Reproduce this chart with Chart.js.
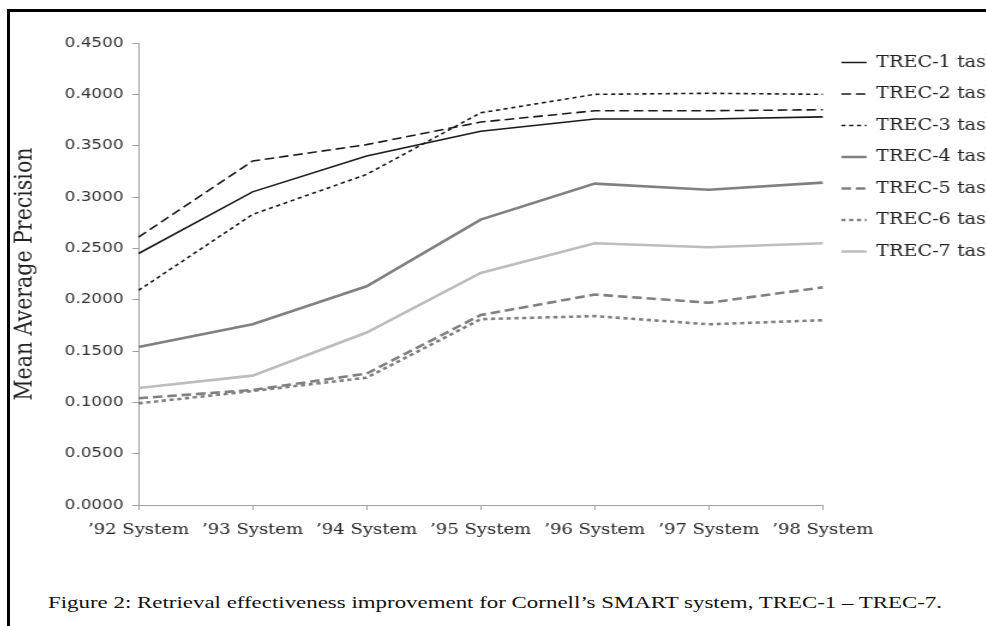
<!DOCTYPE html>
<html lang="en">
<head>
  <meta charset="UTF-8" />
  <title>Retrieval effectiveness, TREC-1 – TREC-7</title>
  <script src="https://cdn.jsdelivr.net/npm/chart.js"></script>
  <style>
    html, body { margin: 0; padding: 0; background: #fff; width: 986px; height: 626px; overflow: hidden; }
    body { position: relative; }
    .frame { position: absolute; left: 7px; top: 9px; width: 1000px; height: 640px;
             border-top: 3px solid #000; border-left: 3px solid #000; z-index: 2; }
    /* the source figure is stretched sideways, so the chart is too */
    .chart-box { position: absolute; left: 10px; top: 14px; width: 833px; height: 543px;
                 transform: scaleX(1.2); transform-origin: 0 0; }
    .caption { position: absolute; left: 48px; top: 593px; font-family: "Liberation Serif", serif;
               font-size: 16px; line-height: 20px; white-space: nowrap; color: #111;
               transform-origin: 0 0; }
  </style>
</head>
<body>
  <div class="frame"></div>
  <div class="chart-box">
    <canvas id="grafico" width="833" height="543"></canvas>
  </div>
  <div class="caption" id="caption">Figure 2: Retrieval effectiveness improvement for Cornell’s SMART system, TREC-1 – TREC-7.</div>

  <script>
    const sistemas = ['’92 System', '’93 System', '’94 System', '’95 System', '’96 System', '’97 System', '’98 System'];
    const yTicks = [0, 0.05, 0.1, 0.15, 0.2, 0.25, 0.3, 0.35, 0.4, 0.45];

    const trec1 = [0.245, 0.305, 0.340, 0.364, 0.376, 0.376, 0.378];
    const trec2 = [0.261, 0.335, 0.351, 0.373, 0.384, 0.384, 0.385];
    const trec3 = [0.209, 0.283, 0.322, 0.382, 0.400, 0.401, 0.400];
    const trec4 = [0.154, 0.176, 0.213, 0.278, 0.313, 0.307, 0.314];
    const trec5 = [0.104, 0.112, 0.128, 0.185, 0.205, 0.197, 0.212];
    const trec6 = [0.099, 0.111, 0.124, 0.181, 0.184, 0.176, 0.180];
    const trec7 = [0.114, 0.126, 0.168, 0.226, 0.255, 0.251, 0.255];

    const serie = (label, data, color, width, dash) => ({
      label, data,
      borderColor: color,
      backgroundColor: color,
      borderWidth: width,
      borderDash: dash,
      pointRadius: 0,
      pointHoverRadius: 0,
      tension: 0,
      fill: false
    });

    const eixo = '#a0a0a0';

    new Chart(document.getElementById('grafico').getContext('2d'), {
      type: 'line',
      data: {
        labels: sistemas,
        datasets: [
          serie('TREC-1 task', trec1, '#1a1a1a', 1.6, []),
          serie('TREC-2 task', trec2, '#1a1a1a', 1.6, [8, 4]),
          serie('TREC-3 task', trec3, '#1a1a1a', 1.6, [3.5, 3]),
          serie('TREC-4 task', trec4, '#808080', 2.6, []),
          serie('TREC-5 task', trec5, '#808080', 2.6, [8, 4]),
          serie('TREC-6 task', trec6, '#808080', 2.6, [3.5, 3]),
          serie('TREC-7 task', trec7, '#bdbdbd', 2.6, [])
        ]
      },
      options: {
        responsive: false,
        animation: false,
        devicePixelRatio: 1,
        layout: { padding: { top: 29, bottom: 7, left: 0, right: 0 } },
        plugins: {
          tooltip: { enabled: false },
          legend: {
            position: 'right',
            align: 'start',
            // título vazio só para subir os itens uns pixels
            title: { display: true, text: ' ', font: { size: 1 }, padding: { top: -5.2, bottom: 0 } },
            labels: {
              usePointStyle: true,
              pointStyle: 'line',
              pointStyleWidth: 21,
              padding: 15.5,
              color: '#222',
              font: { family: 'DejaVu Serif', size: 16 },
              // com pointStyle o tracejado não vem do dataset, então copia aqui
              generateLabels: (chart) => {
                const itens = Chart.defaults.plugins.legend.labels.generateLabels(chart);
                itens.forEach(it => {
                  const ds = chart.data.datasets[it.datasetIndex];
                  it.lineDash = ds.borderDash;
                  it.strokeStyle = ds.borderColor;
                  it.lineWidth = ds.borderWidth;
                });
                return itens;
              }
            }
          }
        },
        scales: {
          x: {
            offset: false,
            grid: { drawOnChartArea: false, color: eixo, tickLength: 5 },
            border: { color: eixo },
            ticks: {
              autoSkip: false, maxRotation: 0, padding: 11,
              color: '#222',
              font: { family: 'DejaVu Serif', size: 15 }
            }
          },
          y: {
            min: 0,
            max: 0.45,
            afterBuildTicks: (scale) => { scale.ticks = yTicks.map(v => ({ value: v })); },
            grid: { drawOnChartArea: false, color: eixo, tickLength: 5 },
            border: { color: eixo },
            ticks: {
              padding: 7.5,
              color: '#333',
              font: { family: 'DejaVu Sans', size: 14 },
              callback: (v) => Number(v).toFixed(4)
            },
            title: {
              display: true,
              text: 'Mean Average Precision',
              color: '#222',
              padding: { top: 0, bottom: 13.5 },
              font: { family: 'DejaVu Serif', size: 20.5 }
            }
          }
        }
      }
    });

    // esticar a legenda da figura até a largura do original
    const cap = document.getElementById('caption');
    const largura = cap.getBoundingClientRect().width;
    cap.style.transform = `scaleX(${894 / largura})`;
  </script>
</body>
</html>
